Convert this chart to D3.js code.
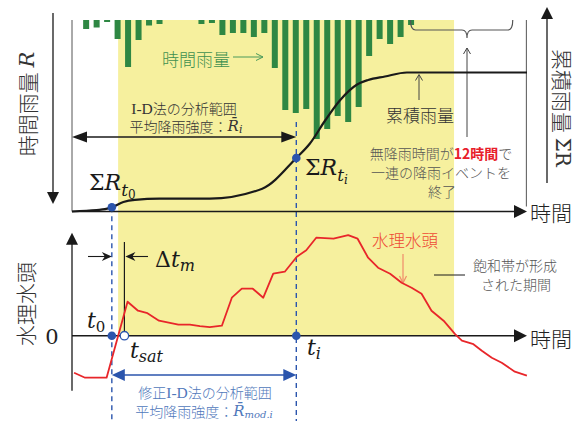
<!DOCTYPE html>
<html><head><meta charset="utf-8">
<script src="https://cdn.jsdelivr.net/npm/d3@7"></script>
<style>
html,body{margin:0;padding:0;background:#fff;}
svg{display:block;}
</style></head><body>
<svg id="chart" width="579" height="421"></svg>
<script>
// Hourly rainfall (mm), one bar per hour
const rainHours = d3.range(1, 33);
const rainValues = [0.9, 0.75, 0.2, 1.9, 4.7, 2.0, 0.55, 0.4, 0, 0, 0, 0.4, 0.3, 1.5, 1.3, 1.3,
  1.7, 1.3, 4.8, 9.0, 9.3, 8.9, 11.9, 10.9, 9.6, 10.2, 8.7, 3.6, 1.9, 2.4, 1.7, 0.5];

// Cumulative rainfall ΣR (mm)
const cumHours = [-0.35, 2.0, 2.8, 3.45, 4.55, 5.65, 8.0, 12.8, 17.8, 21.05, 22.35, 23.8, 25.2, 26.85, 27.9, 29.5, 31.6, 43.06];
const cumValues = [0, 1.5, 2.3, 4.2, 9.5, 11.7, 12.8, 12.8, 22.8, 53.5, 68, 91, 111, 127, 131.5, 135, 139, 139];

// Pressure head (cm)
const headHours = [-0.15, 0.9, 2.95, 4.95, 5.95, 6.85, 7.95, 9.8, 10.9, 11.85, 12.8, 13.95, 14.9, 15.85, 16.9, 17.9, 18.85, 19.95, 21.1, 22.0,
  22.95, 24.6, 26.0, 26.9, 27.9, 28.85, 30.0, 31.1, 32.05, 33.0, 33.95, 35.1, 36.2, 36.85, 37.95, 38.75, 39.7, 40.65, 41.9, 43.05];
const headValues = [-37, -42, -42, 34, 25, 22.5, 15, 11, 11, 9.5, 8.5, 10, 38, 47, 47, 38, 62, 64, 79, 85.5,
  98, 97, 100.5, 97, 78, 68, 62, 53, 48, 42, 25, 15, 1.5, -5, -8.5, -15, -22, -27, -36, -40];

// Key times (h)
const tStart = 3.45;   // t0
const tSat = 4.65;     // t_sat
const tEnd = 21.05;    // t_i
const satPeriod = [4.05, 36.1];       // saturated zone present
const dryGap = [31.9, 41.7];          // 12 h without rain

const svg = d3.select('#chart');
const jp = '"Noto Sans CJK JP", "Noto Sans", sans-serif';
const serif = '"DejaVu Serif", "Liberation Serif", serif';
const jpWeight = 300;

const x = d3.scaleLinear().domain([-0.35, 43.06]).range([72, 527]);
const yRain = d3.scaleLinear().domain([0, 12]).range([20, 140]);
const yCum = d3.scaleLinear().domain([0, 140]).range([211.5, 71.5]);
const yHead = d3.scaleLinear().domain([-55, 103]).range([390.7, 232.7]);

const ink = '#1a1a1a', blue = '#2b55ad', blueText = '#4f78bb', green = '#2e8743', red = '#e8262a';

// saturated period band
svg.append('rect')
  .attr('x', x(satPeriod[0])).attr('y', yRain(0))
  .attr('width', x(satPeriod[1]) - x(satPeriod[0]))
  .attr('height', yHead(0) - yRain(0))
  .attr('fill', '#f6f09e');

// hourly rainfall bars hanging from the top
svg.append('g').selectAll('rect').data(rainHours.map((h, i) => ({h, v: rainValues[i]})).filter(d => d.v > 0))
  .join('rect')
  .attr('x', d => x(d.h) - 3).attr('y', yRain(0))
  .attr('width', 6).attr('height', d => yRain(d.v) - yRain(0))
  .attr('fill', green);

// helpers
function filledArrow(g, px, py, ang, len, hw, color) {
  g.append('path').attr('d', `M0,0L${-len},${-hw}L${-len},${hw}Z`)
    .attr('transform', `translate(${px},${py}) rotate(${ang})`).attr('fill', color);
}
function notchArrow(g, px, py, ang, len, hw, color) {
  g.append('path').attr('d', `M0,0L${-len},${-hw}L${-len * 0.7},0L${-len},${hw}Z`)
    .attr('transform', `translate(${px},${py}) rotate(${ang})`).attr('fill', color);
}
function openArrow(g, px, py, ang, len, hw, color, sw) {
  g.append('path').attr('d', `M${-len},${-hw}L0,0L${-len},${hw}`)
    .attr('transform', `translate(${px},${py}) rotate(${ang})`)
    .attr('fill', 'none').attr('stroke', color).attr('stroke-width', sw || 1);
}
function line(g, x1, y1, x2, y2, color, sw, dash) {
  const l = g.append('line').attr('x1', x1).attr('y1', y1).attr('x2', x2).attr('y2', y2)
    .attr('stroke', color).attr('stroke-width', sw);
  if (dash) l.attr('stroke-dasharray', dash);
  return l;
}

const g = svg.append('g');

// dashed markers at t0 and t_i
line(g, x(tStart), yCum(cumValues[3]), x(tStart), 421, blue, 1.4, '5,4');
line(g, x(tEnd), 122, x(tEnd), 421, blue, 1.4, '5,4');

// top panel frame
line(g, 72, yRain(0), 72, yCum(0), '#555', 1);
line(g, x(43), yRain(0), x(43), yCum(0) - 5, '#555', 1);
const topAxis = svg.append('g').attr('transform', `translate(0,${yCum(0)})`)
  .call(d3.axisBottom(x).ticks(0).tickSizeOuter(0));
topAxis.select('.domain').attr('stroke', ink).attr('stroke-width', 1.5).attr('d', `M72,0H${x(43.06) - 8}`);
filledArrow(g, x(43.06), yCum(0), 0, 13, 6.5, ink);

// bottom panel axes
const zeroAxis = svg.append('g').attr('transform', `translate(0,${yHead(0)})`)
  .call(d3.axisBottom(x).ticks(0).tickSizeOuter(0));
zeroAxis.select('.domain').attr('stroke', ink).attr('stroke-width', 1.5).attr('d', `M72,0H${x(43.06) - 8}`);
filledArrow(g, x(43.06), yHead(0), 0, 13, 6.5, ink);
const headAxis = svg.append('g').attr('transform', 'translate(72,0)')
  .call(d3.axisLeft(yHead).ticks(0).tickSizeOuter(0));
headAxis.select('.domain').attr('stroke', ink).attr('stroke-width', 1.3).attr('d', `M0,${yHead(-55)}V${yHead(103) + 8}`);
filledArrow(g, 72, yHead(103), -90, 12, 6, ink);

// outer axis arrows (rain downwards, cumulative upwards)
line(g, 53, 13, 53, 193, ink, 1.3);
filledArrow(g, 53, 204, 90, 12, 6, ink);
line(g, 547, 183, 547, 18, ink, 1.3);
filledArrow(g, 547, 7, -90, 12, 6, ink);

// cumulative rainfall curve
svg.append('path')
  .datum(cumHours.map((h, i) => [h, cumValues[i]]))
  .attr('fill', 'none').attr('stroke', ink).attr('stroke-width', 2.2)
  .attr('d', d3.line().x(d => x(d[0])).y(d => yCum(d[1])).curve(d3.curveMonotoneX));

// pressure head line
svg.append('path')
  .datum(headHours.map((h, i) => [h, headValues[i]]))
  .attr('fill', 'none').attr('stroke', red).attr('stroke-width', 1.8).attr('stroke-linejoin', 'round')
  .attr('d', d3.line().x(d => x(d[0])).y(d => yHead(d[1])));

// I-D analysis range (black double arrow)
line(g, 84, 137, x(tEnd) - 12, 137, ink, 1.4);
filledArrow(g, 72, 137, 180, 15, 5.5, ink);
filledArrow(g, x(tEnd), 137, 0, 15, 5.5, ink);

// modified I-D analysis range (blue double arrow)
line(g, x(tStart) + 12, 375, x(tEnd) - 12, 375, blue, 1.4);
filledArrow(g, x(tStart), 375, 180, 13, 6, blue);
filledArrow(g, x(tEnd), 375, 0, 13, 6, blue);

// Δt_m markers
line(g, x(tSat), yHead(0), x(tSat), 242, ink, 1.2);
line(g, 88, 256.5, x(tStart) - 2, 256.5, ink, 1.1);
notchArrow(g, x(tStart), 256.5, 0, 10, 4.5, ink);
line(g, 148, 256.5, x(tSat) + 3, 256.5, ink, 1.1);
notchArrow(g, x(tSat) + 1, 256.5, 180, 10, 4.5, ink);

// brace over the 12 h dry spell and its arrow
const bx0 = x(dryGap[0]) + 0.5, bx1 = x(dryGap[1]), bm = 467;
g.append('path')
  .attr('d', `M${bx0},20 Q${bx0},30 ${bx0 + 5},30 L${bm - 5},30 Q${bm},30 ${bm},38 Q${bm},30 ${bm + 5},30 L${bx1 - 5},30 Q${bx1},30 ${bx1},20`)
  .attr('fill', 'none').attr('stroke', '#555').attr('stroke-width', 1.2);
line(g, bm, 48, bm, 137, '#444', 1);
openArrow(g, bm, 48, -90, 6, 3.5, '#444', 1);

// arrow to the cumulative plateau
line(g, 419, 75, 419, 100, '#444', 1);
openArrow(g, 419, 74.5, -90, 6, 3.5, '#444', 1);

// arrow from hourly rainfall label
line(g, 233, 57, 263, 57, '#4a9a5a', 1);
openArrow(g, 263, 57, 0, 7, 3.5, '#4a9a5a', 1);

// arrow from pressure head label
line(g, 403, 254, 403, 282, '#f08a6a', 1.2);
openArrow(g, 403, 283, 90, 7, 3.5, '#f08a6a', 1.2);

// leader for saturated period note
line(g, 434, 275, 465, 275, ink, 1);

// dots
const dots = [[x(tStart), yCum(cumValues[3])], [x(tEnd), yCum(cumValues[9])], [x(tStart), yHead(0)], [x(tEnd), yHead(0)]];
svg.append('g').selectAll('circle').data(dots).join('circle')
  .attr('cx', d => d[0]).attr('cy', d => d[1]).attr('r', 4.3).attr('fill', blue);
svg.append('circle').attr('cx', x(tSat)).attr('cy', yHead(0)).attr('r', 4.2)
  .attr('fill', '#fff').attr('stroke', blue).attr('stroke-width', 1.3);

// ---------- text ----------
function txt(px, py, opts) {
  const t = svg.append('text').attr('x', px).attr('y', py)
    .attr('font-family', opts.family || jp).attr('font-size', opts.size || 14)
    .attr('font-weight', opts.family ? 'normal' : jpWeight)
    .attr('fill', opts.color || '#333').attr('text-anchor', opts.anchor || 'start');
  if (opts.baseline) t.attr('dominant-baseline', opts.baseline);
  if (opts.transform) t.attr('transform', opts.transform);
  return t;
}
function span(t, s, o) {
  const sp = t.append('tspan').text(s);
  o = o || {};
  if (o.family) sp.attr('font-family', o.family).attr('font-weight', 'normal');
  if (o.size) sp.attr('font-size', o.size);
  if (o.italic) sp.attr('font-style', 'italic');
  if (o.weight) sp.attr('font-weight', o.weight);
  if (o.color) sp.attr('fill', o.color);
  if (o.dy !== undefined) sp.attr('dy', o.dy);
  if (o.dx !== undefined) sp.attr('dx', o.dx);
  return sp;
}

// axis titles
let t = txt(0, 0, {size: 21, color: '#333', anchor: 'middle', baseline: 'central', transform: 'translate(27,104) rotate(-90)'});
span(t, '時間雨量 ');
span(t, 'R', {family: serif, italic: true, size: 21});

t = txt(0, 0, {size: 21, color: '#333', anchor: 'middle', baseline: 'central', transform: 'translate(25,304) rotate(-90)'});
span(t, '水理水頭');

t = txt(0, 0, {size: 21, color: '#333', anchor: 'middle', baseline: 'central', transform: 'translate(563,108) rotate(90)'});
span(t, '累積雨量 ');
span(t, 'ΣR', {family: serif, size: 20});

txt(530, 212, {size: 21, color: '#222', baseline: 'central'}).text('時間');
txt(530, 338, {size: 21, color: '#222', baseline: 'central'}).text('時間');
txt(52, 337, {size: 21, color: '#222', family: serif, anchor: 'middle', baseline: 'central'}).text('0');

// series labels
txt(196, 58, {size: 17, color: '#3f9150', anchor: 'middle', baseline: 'central'}).text('時間雨量');
txt(420, 114, {size: 17, color: '#333', anchor: 'middle', baseline: 'central'}).text('累積雨量');
txt(405, 240, {size: 16.5, color: '#ee4a35', anchor: 'middle', baseline: 'central'}).text('水理水頭');

// I-D method range
t = txt(184, 108, {size: 14, color: '#333', anchor: 'middle', baseline: 'central'});
span(t, 'I-D', {family: '"Liberation Serif", serif', size: 15.5});
span(t, '法の分析範囲');
t = txt(186, 126, {size: 14, color: '#333', anchor: 'middle', baseline: 'central'});
span(t, '平均降雨強度：');
span(t, 'R\u0304', {family: serif, italic: true, size: 15});
span(t, 'i', {family: serif, italic: true, size: 11, dy: 3});

// modified I-D method range
t = txt(205, 392, {size: 14, color: blueText, anchor: 'middle', baseline: 'central'});
span(t, '修正');
span(t, 'I-D', {family: '"Liberation Serif", serif', size: 15.5});
span(t, '法の分析範囲');
t = txt(204, 411, {size: 14, color: blueText, anchor: 'middle', baseline: 'central'});
span(t, '平均降雨強度：');
span(t, 'R\u0304', {family: serif, italic: true, size: 15});
span(t, 'mod.i', {family: serif, italic: true, size: 10, dy: 3});

// end-of-event note
t = txt(441, 152.5, {size: 14, color: '#555', anchor: 'middle', baseline: 'central'});
span(t, '無降雨時間が');
span(t, '12時間', {color: '#e8202a', weight: 'bold'});
span(t, 'で');
txt(441, 171.5, {size: 14, color: '#555', anchor: 'middle', baseline: 'central'}).text('一連の降雨イベントを');
txt(442, 190.5, {size: 14, color: '#555', anchor: 'middle', baseline: 'central'}).text('終了');

// saturated period note
txt(515, 265, {size: 14, color: '#555', anchor: 'middle', baseline: 'central'}).text('飽和帯が形成');
txt(516, 284, {size: 14, color: '#555', anchor: 'middle', baseline: 'central'}).text('された期間');

// math labels
t = txt(89, 190, {family: serif, size: 22, color: ink});
span(t, 'Σ');
span(t, 'R', {italic: true});
span(t, 't', {italic: true, size: 17, dy: 6});
span(t, '0', {size: 12, dy: 3});

t = txt(305, 175, {family: serif, size: 22, color: ink});
span(t, 'Σ');
span(t, 'R', {italic: true});
span(t, 't', {italic: true, size: 17, dy: 6});
span(t, 'i', {italic: true, size: 12, dy: 3});

t = txt(87, 328, {family: serif, size: 22, color: ink});
span(t, 't', {italic: true});
span(t, '0', {size: 15, dy: 4});

t = txt(130, 358, {family: serif, size: 22, color: ink});
span(t, 't', {italic: true});
span(t, 'sat', {italic: true, size: 16, dy: 4});

t = txt(307, 355, {family: serif, size: 22, color: ink});
span(t, 't', {italic: true});
span(t, 'i', {italic: true, size: 16, dy: 4});

t = txt(155, 267, {family: serif, size: 22, color: ink});
span(t, 'Δ');
span(t, 't', {italic: true});
span(t, 'm', {italic: true, size: 16, dy: 4});
</script>
</body></html>
